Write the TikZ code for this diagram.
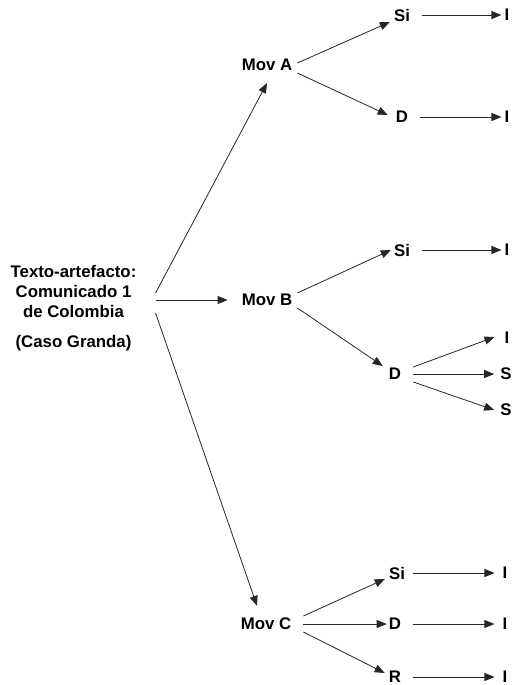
\documentclass[tikz,border=0pt]{standalone}
\usepackage{fontspec}
\setmainfont{Liberation Sans}
\usetikzlibrary{calc,arrows.meta}
\begin{document}
\begin{tikzpicture}[x=1pt,y=-1pt,
  lbl/.style={inner sep=0pt,font=\fontsize{16.8}{20}\selectfont\bfseries},
  arr/.style={draw=black!85,line width=0.8pt,-{Triangle[length=10pt,width=8pt]}}]
\useasboundingbox (0,0) rectangle (513,685);
% nodes
\node[lbl,align=center] (src) at (73.5,308.5) {Texto-artefacto:\\Comunicado 1\\de Colombia\\[10pt](Caso Granda)};
\node[lbl] (movA) at (267,65) {Mov A};
\node[lbl] (movB) at (267,300) {Mov B};
\node[lbl] (movC) at (266,624) {Mov C};
\node[lbl] (siA) at (402,15) {Si};
\node[lbl] (dA) at (402,117) {D};
\node[lbl] (iA1) at (507,15) {I};
\node[lbl] (iA2) at (507,117) {I};
\node[lbl] (siB) at (402,250) {Si};
\node[lbl] (iB1) at (507,250) {I};
\node[lbl] (dB) at (395,374) {D};
\node[lbl] (iB2) at (507,338) {I};
\node[lbl] (sB1) at (506,374) {S};
\node[lbl] (sB2) at (506,410) {S};
\node[lbl] (siC) at (397,573) {Si};
\node[lbl] (dC) at (395,624) {D};
\node[lbl] (rC) at (395,677) {R};
\node[lbl] (iC1) at (505,573) {I};
\node[lbl] (iC2) at (505,624) {I};
\node[lbl] (iC3) at (505,677) {I};
% source arrows
\draw[arr] ($(src.east)+(19,-15.5)$) -- ($(movA.south)+(0,12)$);
\draw[arr] ($(src.east)+(19,-8.5)$) -- ($(movB.west)+(-14,0)$);
\draw[arr] ($(src.east)+(19,4.5)$) -- ($(movC.north)+(-9,-12)$);
% Mov A
\draw[arr] ($(movA.east)+(5,-2)$) -- ($(siA.west)+(-4,7)$);
\draw[arr] ($(movA.east)+(5,8)$) -- ($(dA.west)+(-8,-2)$);
\draw[arr] ($(siA.east)+(12,0)$) -- ($(iA1.west)+(-3,0)$);
\draw[arr] ($(dA.east)+(12,0)$) -- ($(iA2.west)+(-3,0)$);
% Mov B
\draw[arr] ($(movB.east)+(5,-7)$) -- ($(siB.west)+(-3,0)$);
\draw[arr] ($(siB.east)+(12,0)$) -- ($(iB1.west)+(-3,0)$);
\draw[arr] ($(movB.east)+(5,8)$) -- ($(dB.west)+(-6,-8)$);
\draw[arr] ($(dB.east)+(12,-7)$) -- ($(iB2.west)+(-10,-1)$);
\draw[arr] ($(dB.east)+(12,0)$) -- ($(sB1.west)+(-6,0)$);
\draw[arr] ($(dB.east)+(12,8)$) -- ($(sB2.west)+(-6,0)$);
% Mov C
\draw[arr] ($(movC.east)+(12,-8)$) -- ($(siC.west)+(-4,6)$);
\draw[arr] ($(movC.east)+(12,0)$) -- ($(dC.west)+(-2,0)$);
\draw[arr] ($(movC.east)+(12,8)$) -- ($(rC.west)+(-4,-4)$);
\draw[arr] ($(siC.east)+(8,0)$) -- ($(iC1.west)+(-8,0)$);
\draw[arr] ($(dC.east)+(12,0)$) -- ($(iC2.west)+(-8,0)$);
\draw[arr] ($(rC.east)+(12,0)$) -- ($(iC3.west)+(-8,0)$);
\end{tikzpicture}
\end{document}
